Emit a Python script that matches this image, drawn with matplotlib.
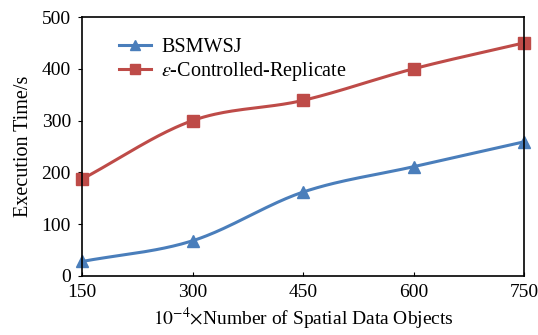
import numpy as np
import matplotlib
matplotlib.use("Agg")
from matplotlib import pyplot as plt

objects = [150, 300, 450, 600, 750]
bsmwsj = [28, 68, 162, 211, 259]
eps_replicate = [187, 300, 339, 400, 450]

series_names = ["BSMWSJ", r"$\varepsilon$-Controlled-Replicate"]
BLUE = "#4a7ebb"
RED = "#be4b48"


def smooth(x, y, n=40):
    # catmull-rom style smoothing, like an office chart "smoothed line"
    x = np.asarray(x, float)
    y = np.asarray(y, float)
    px = np.concatenate([[2 * x[0] - x[1]], x, [2 * x[-1] - x[-2]]])
    py = np.concatenate([[2 * y[0] - y[1]], y, [2 * y[-1] - y[-2]]])
    xs, ys = [], []
    t = np.linspace(0, 1, n)
    for i in range(1, len(px) - 2):
        for p, out in ((px, xs), (py, ys)):
            p0, p1, p2, p3 = p[i - 1], p[i], p[i + 1], p[i + 2]
            out.append(0.5 * ((2 * p1) + (-p0 + p2) * t
                              + (2 * p0 - 5 * p1 + 4 * p2 - p3) * t ** 2
                              + (-p0 + 3 * p1 - 3 * p2 + p3) * t ** 3))
    return np.concatenate(xs), np.concatenate(ys)


def main():
    plt.rcParams["font.family"] = ["Liberation Serif", "DejaVu Serif"]
    plt.rcParams["mathtext.fontset"] = "stix"

    fig = plt.figure(figsize=(5.38, 3.35), dpi=100)
    ax = fig.add_axes([82 / 538, 1 - 276 / 335, (524 - 82) / 538, (276 - 17) / 335])

    for ys, color, marker, name in ((bsmwsj, BLUE, "^", series_names[0]),
                                     (eps_replicate, RED, "s", series_names[1])):
        sx, sy = smooth(objects, ys)
        ax.plot(sx, sy, color=color, lw=2.2, clip_on=False)
        ax.plot(objects, ys, linestyle="none", marker=marker, color=color,
                markersize=9, clip_on=False)
        ax.plot([], [], color=color, lw=2.2, marker=marker, markersize=7, label=name)

    ax.set_xlim(150, 750)
    ax.set_ylim(0, 500)
    ax.set_xticks(objects)
    ax.set_yticks([0, 100, 200, 300, 400, 500])
    ax.tick_params(axis="x", direction="in", length=3, pad=6, labelsize=14)
    ax.tick_params(axis="y", direction="out", length=3, pad=5, labelsize=14)
    for s in ax.spines.values():
        s.set_linewidth(1.2)

    ax.set_xlabel(r"$10^{-4}$$\times$Number of Spatial Data Objects", fontsize=14, labelpad=3)
    ax.set_ylabel("Execution Time/s", fontsize=14.5, labelpad=6)

    ax.legend(loc="upper left", bbox_to_anchor=(0.065, 0.95), frameon=False,
              fontsize=14.5, handlelength=1.6, handletextpad=0.5,
              labelspacing=0.15, borderaxespad=0)

    fig.set_facecolor("white")
    plt.savefig("out.png", dpi=100)


if __name__ == "__main__":
    main()
